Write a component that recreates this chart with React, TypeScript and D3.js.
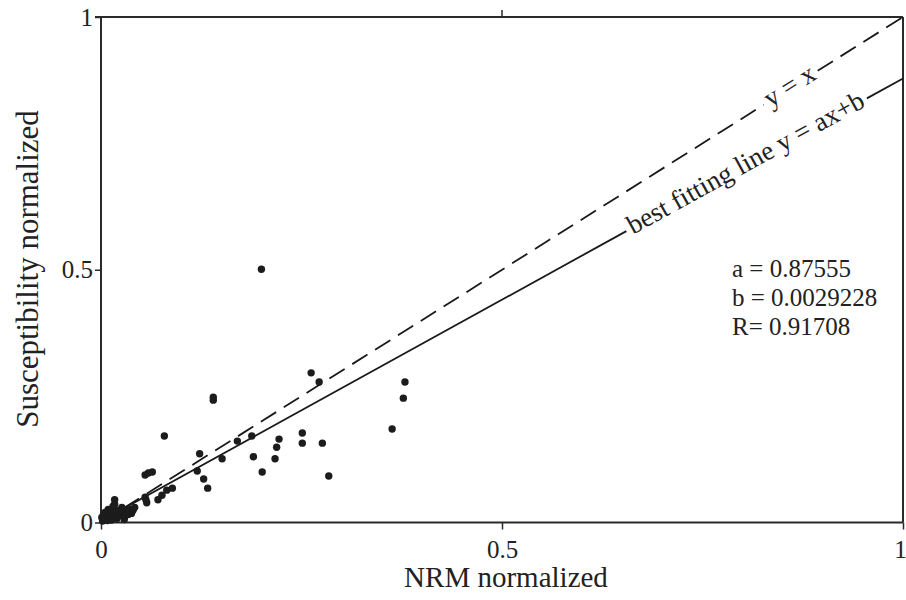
import React, { useEffect, useRef } from 'react';
import * as d3 from 'd3';

const xTicks = [0, 0.5, 1];
const yTicks = [0, 0.5, 1];
const xTickLabels = ['0', '0.5', '1'];
const yTickLabels = ['0', '0.5', '1'];

const nrmValues = [
  0.200, 0.140, 0.140, 0.262, 0.272, 0.379, 0.377, 0.363, 0.251, 0.251,
  0.276, 0.284, 0.079, 0.123, 0.151, 0.170, 0.188, 0.222, 0.219, 0.190,
  0.201, 0.217, 0.120, 0.128, 0.133, 0.055, 0.059, 0.064, 0.055, 0.057,
  0.056, 0.071, 0.076, 0.082, 0.089, 0.017,
  0.002, 0.004, 0.006, 0.008, 0.010, 0.012, 0.014, 0.016, 0.017, 0.018,
  0.020, 0.022, 0.024, 0.026, 0.028, 0.030, 0.032, 0.034, 0.036, 0.038,
  0.040, 0.005, 0.009, 0.013, 0.003, 0.019, 0.042, 0.029, 0.001, 0.015,
];
const susceptibilityValues = [
  0.501, 0.248, 0.242, 0.296, 0.278, 0.278, 0.246, 0.185, 0.177, 0.157,
  0.157, 0.092, 0.171, 0.136, 0.126, 0.161, 0.171, 0.165, 0.149, 0.130,
  0.100, 0.126, 0.102, 0.086, 0.068, 0.094, 0.098, 0.100, 0.050, 0.039,
  0.045, 0.045, 0.054, 0.064, 0.068, 0.045,
  0.003, 0.008, 0.012, 0.004, 0.015, 0.020, 0.010, 0.028, 0.036, 0.018,
  0.008, 0.024, 0.014, 0.030, 0.020, 0.012, 0.022, 0.016, 0.026, 0.018,
  0.024, 0.020, 0.026, 0.005, 0.015, 0.012, 0.030, 0.006, 0.010, 0.032,
];

const fitA = 0.87555;
const fitB = 0.0029228;
const fitR = 0.91708;
const statLines = [`a = ${fitA}`, `b = ${fitB}`, `R= ${fitR}`];

const W = 906;
const H = 600;
const FONT = '"Liberation Serif", "Times New Roman", serif';

export default function App() {
  const ref = useRef<SVGSVGElement>(null);

  useEffect(() => {
    const svg = d3.select(ref.current!);
    svg.selectAll('*').remove();

    const x = d3.scaleLinear().domain([0, 1]).range([101, 903]);
    const y = d3.scaleLinear().domain([0, 1]).range([522.5, 17]);
    const ink = '#2a2a2a';

    // frame: top and right
    svg.append('line').attr('x1', x(0) - 6).attr('x2', x(1)).attr('y1', y(1)).attr('y2', y(1))
      .attr('stroke', ink).attr('stroke-width', 2);
    svg.append('line').attr('x1', x(1)).attr('x2', x(1)).attr('y1', y(1)).attr('y2', y(0))
      .attr('stroke', ink).attr('stroke-width', 2);
    // top tick at 0.5
    svg.append('line').attr('x1', x(0.5)).attr('x2', x(0.5)).attr('y1', y(1)).attr('y2', y(1) - 7)
      .attr('stroke', ink).attr('stroke-width', 1.5);

    const gx = svg.append('g').attr('transform', `translate(0,${y(0)})`)
      .call(d3.axisBottom(x).tickValues(xTicks).tickSize(7).tickPadding(11)
        .tickFormat((d, i) => xTickLabels[i]));
    gx.select('.domain').attr('stroke', ink).attr('stroke-width', 2).attr('d', `M${x(0)},0H${x(1)}`);
    gx.selectAll('.tick line').attr('stroke', ink).attr('stroke-width', 1.5);
    gx.selectAll('.tick text').attr('font-family', FONT).attr('font-size', 25).attr('fill', '#222')
      .attr('dx', (d, i) => (i === xTicks.length - 1 ? -3 : 0));

    const gy = svg.append('g').attr('transform', `translate(${x(0)},0)`)
      .call(d3.axisLeft(y).tickValues(yTicks).tickSize(6).tickPadding(2)
        .tickFormat((d, i) => yTickLabels[i]));
    gy.select('.domain').attr('stroke', ink).attr('stroke-width', 2).attr('d', `M0,${y(0)}V${y(1)}`);
    gy.selectAll('.tick line').attr('stroke', ink).attr('stroke-width', 1.5);
    gy.selectAll('.tick text').attr('font-family', FONT).attr('font-size', 25).attr('fill', '#222');

    // axis titles
    svg.append('text').attr('x', x(0.5) + 4).attr('y', 587).attr('text-anchor', 'middle')
      .attr('font-family', FONT).attr('font-size', 29).attr('fill', '#222').text('NRM normalized');
    svg.append('text').attr('transform', `translate(38,${269}) rotate(-90)`).attr('text-anchor', 'middle')
      .attr('font-family', FONT).attr('font-size', 31).attr('fill', '#222').text('Susceptibility normalized');

    // lines with labels on them
    const drawLabeledLine = (f: (v: number) => number, xc: number, label: string, dash: string | null) => {
      const p0 = [x(0), y(f(0))];
      const p1 = [x(1), y(f(1))];
      const ang = Math.atan2(p1[1] - p0[1], p1[0] - p0[0]);
      const cx = x(xc), cy = y(f(xc));
      const t = svg.append('text')
        .attr('transform', `translate(${cx},${cy}) rotate(${(ang * 180) / Math.PI})`)
        .attr('text-anchor', 'middle').attr('dy', '0.24em')
        .attr('font-family', FONT).attr('font-size', 27).attr('fill', '#222').text(label);
      const L = (t.node() as SVGTextElement).getComputedTextLength();
      const half = (L / 2 + 4) * Math.cos(ang);
      const xa = x.invert(cx - half);
      const xb = x.invert(cx + half);
      const seg = (a: number, b: number) => {
        const l = svg.append('line').attr('x1', x(a)).attr('y1', y(f(a))).attr('x2', x(b)).attr('y2', y(f(b)))
          .attr('stroke', '#1a1a1a').attr('stroke-width', 1.8);
        if (dash) l.attr('stroke-dasharray', dash);
      };
      seg(0, xa);
      seg(xb, 1);
    };
    drawLabeledLine((v) => v, 0.86, 'y = x', '18,9');
    drawLabeledLine((v) => fitA * v + fitB, 0.805, 'best fitting line y = ax+b', null);

    // stats
    statLines.forEach((s, i) => {
      svg.append('text').attr('x', 732).attr('y', 277 + i * 29)
        .attr('font-family', FONT).attr('font-size', 25).attr('fill', '#222').text(s);
    });

    // points
    svg.append('g').selectAll('circle').data(nrmValues.map((v, i) => [v, susceptibilityValues[i]]))
      .join('circle')
      .attr('cx', (d) => x(d[0])).attr('cy', (d) => y(d[1])).attr('r', 3.7).attr('fill', '#1c1c1c');
  }, []);

  return (
    <svg ref={ref} width={W} height={H} style={{ position: 'absolute', left: 0, top: 0, background: '#fff' }} />
  );
}
